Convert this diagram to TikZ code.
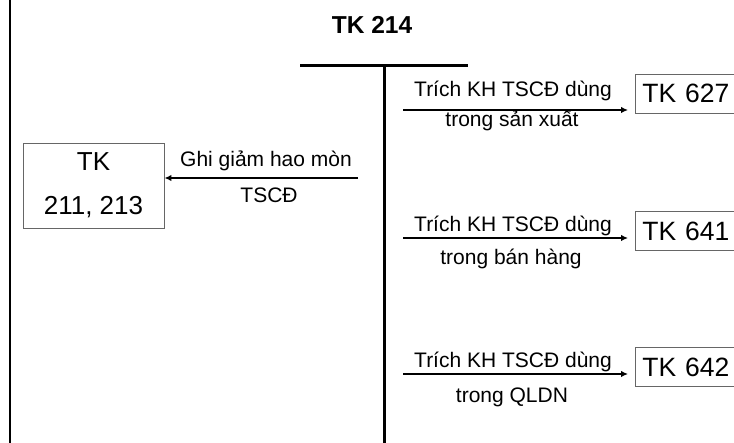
\documentclass[tikz,border=0pt]{standalone}
\usepackage{fontspec}
\setmainfont{Liberation Sans}
\usetikzlibrary{arrows.meta}
\begin{document}
\begin{tikzpicture}[x=1pt,y=-1pt,
  acctbox/.style={draw=black!60, line width=0.9pt, inner sep=0pt},
  rightbox/.style={acctbox, anchor=west, minimum height=39pt, text width=100pt,
    align=left, inner xsep=7pt, font=\fontsize{26.5}{30}\selectfont},
  lbl/.style={anchor=base, inner sep=0pt, font=\fontsize{21}{25}\selectfont},
  flow/.style={line width=1.8pt, -{Latex[length=7pt,width=6.5pt]}},
  ledger/.style={line width=3pt}]
\useasboundingbox (0,0) rectangle (734,443);
\clip (0,0) rectangle (734,443);

% outer left rule
\draw[line width=2.5pt] (10,0) -- (10,443);

% T-account of TK 214
\node[anchor=base, inner sep=0pt, font=\fontsize{24.5}{28}\selectfont\bfseries] (title) at (372,34) {TK 214};
\coordinate (tl) at (300,66);
\coordinate (tr) at (468,66);
\coordinate (tm) at (384,66);
\coordinate (tb) at (384,443);
\draw[ledger] (tl) -- (tr);
\draw[ledger] (tm) -- (tb);

% debit side: TK 211, 213
\node[acctbox, minimum width=141pt, minimum height=85pt, align=center,
  font=\fontsize{26}{44}\selectfont] (k211) at (93.5,185.5) {TK\\211, 213};
\coordinate (sL) at (358,178);
\draw[flow] (sL) -- (sL -| k211.east);
\node[lbl] (lL1) at (266,167) {Ghi giảm hao mòn};
\node[lbl] (lL2) at (269,203) {TSCĐ};

% credit side: expense accounts
\node[rightbox] (b627) at (635,93.5) {TK 627};
\node[rightbox] (b641) at (635,231) {TK 641};
\node[rightbox] (b642) at (635,367) {TK 642};

\coordinate (s1) at (403,110);
\coordinate (s2) at (403,238);
\coordinate (s3) at (403,374);
\draw[flow, shorten >=7pt] (s1) -- (s1 -| b627.west);
\draw[flow, shorten >=7pt] (s2) -- (s2 -| b641.west);
\draw[flow, shorten >=7pt] (s3) -- (s3 -| b642.west);

\node[lbl] (l1a) at (513,97) {Trích KH TSCĐ dùng};
\node[lbl] (l1b) at (512,127) {trong sản xuất};
\node[lbl] (l2a) at (513,232) {Trích KH TSCĐ dùng};
\node[lbl] (l2b) at (511,265) {trong bán hàng};
\node[lbl] (l3a) at (513,368) {Trích KH TSCĐ dùng};
\node[lbl] (l3b) at (512,403) {trong QLDN};
\end{tikzpicture}
\end{document}
